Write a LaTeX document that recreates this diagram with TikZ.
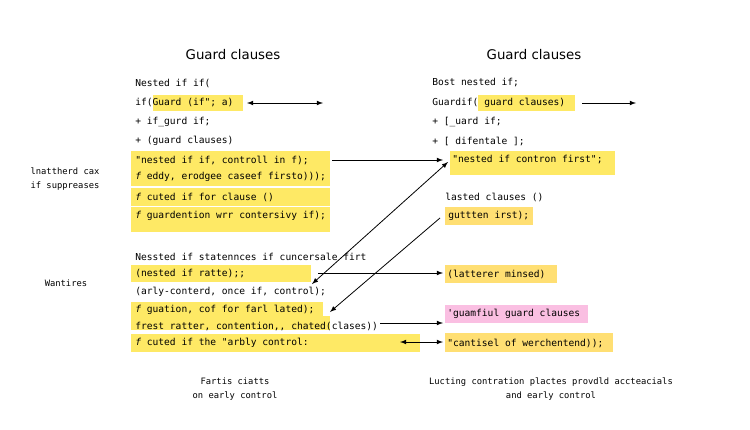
\documentclass[tikz,border=0pt]{standalone}
\usepackage{fontspec}
\setmainfont{DejaVu Sans}
\setmonofont{DejaVu Sans Mono}
\begin{document}
\begin{tikzpicture}[x=0.75pt,y=-0.75pt,
  t/.style={anchor=west,inner sep=0pt,font=\ttfamily\fontsize{7.2}{8}\selectfont},
  c/.style={inner sep=0pt,font=\ttfamily\fontsize{6.6}{8}\selectfont,align=center},
  hy/.style={fill=yellow!80!orange!60!white,draw=none},
  ho/.style={fill=orange!45!yellow!55!white,draw=none},
  hp/.style={fill=magenta!25!white,draw=none},
  ar/.style={-latex,line width=0.6pt},
  ttl/.style={font=\fontsize{10}{12}\selectfont}]
\fill[white] (0,0) rectangle (750,429);
\useasboundingbox (0,0) rectangle (750,429);
% highlight boxes
\fill[hy] (153,95) rectangle (243,111);
\fill[hy] (478,95) rectangle (575,111);
\fill[hy] (131,151) rectangle (330,186);
\fill[hy] (131,188) rectangle (330,206);
\fill[hy] (131,207) rectangle (330,232);
\fill[hy] (131,265) rectangle (311,282);
\fill[hy] (131,302) rectangle (323,330);
\fill[hy] (131,316) rectangle (330,330);
\fill[hy] (131,334) rectangle (420,352);
\fill[hy] (450,151) rectangle (615,175);
\fill[ho] (445,207) rectangle (533,225);
\fill[ho] (445,265) rectangle (557,283);
\fill[hp] (445,305) rectangle (588,323);
\fill[ho] (445,333) rectangle (613,352);
% titles
\node[ttl] (t1) at (233,55) {Guard clauses};
\node[ttl] (t2) at (534,55) {Guard clauses};
% left column
\node[t] (l1) at (135,83) {Nested if if(};
\node[t] (l2) at (135,103) {if(Guard (if"; a)};
\node[t] (l3) at (135,122) {+ if\_gurd if;};
\node[t] (l4) at (135,141) {+ (guard clauses)};
\node[t] (l5) at (135,160) {"nested if if, controll in f);};
\node[t] (l6) at (135,177) {\itshape f\upshape{} eddy, erodgee caseef firsto)));};
\node[t] (l7) at (135,197) {\itshape f\upshape{} cuted if for clause ()};
\node[t] (l8) at (135,216) {\itshape f\upshape{} guardention wrr contersivy if);};
\node[t] (l9) at (135,257) {Nessted if statennces if cuncersale firt};
\node[t] (l10) at (135,274) {(nested if ratte);;};
\node[t] (l11) at (135,292) {(arly-conterd, once if, control);};
\node[t] (l12) at (135,310) {\itshape f\upshape{} guation, cof for farl lated);};
\node[t] (l13) at (135,326) {frest ratter, contention,, chated(clases))};
\node[t] (l14) at (135,343) {\itshape f\upshape{} cuted if the "arbly  control:};
% right column
\node[t] (r1) at (432,83) {Bost nested if;};
\node[t] (r2) at (432,103) {Guardif( guard clauses)};
\node[t] (r3) at (432,122) {+ [\_uard if;};
\node[t] (r4) at (432,141) {+ [ difentale ];};
\node[t] (r5) at (452,160) {"nested if contron first";};
\node[t] (r6) at (445,197) {lasted clauses ()};
\node[t] (r7) at (448,216) {guttten irst);};
\node[t] (r8) at (447,274) {(latterer minsed)};
\node[t] (r9) at (447,314) {'guamfiul guard clauses};
\node[t] (r10) at (447,343) {"cantisel of werchentend));};
% side labels
\node[c] (s1) at (65,179) {lnattherd cax\\[3pt]if suppreases};
\node[c] (s2) at (66,283) {Wantires};
\node[c] (b1) at (235,389) {Fartis ciatts\\[3pt]on early control};
\node[c] (b2) at (551,389) {Lucting contration plactes provdld accteacials\\[3pt]and early control};
% connectors
\coordinate (a1) at (247,103); \coordinate (a2) at (323,103);
\draw[latex-latex,line width=0.6pt] (a1) -- (a2);
\coordinate (b1s) at (582,103); \coordinate (b1e) at (636,103);
\draw[ar] (b1s) -- (b1e);
\coordinate (c1) at (332,160); \coordinate (c2) at (443,160);
\draw[ar] (c1) -- (c2);
\coordinate (d1) at (312,284); \coordinate (d2) at (448,162);
\draw[latex-latex,line width=0.6pt] (d1) -- (d2);
\coordinate (e1) at (440,218); \coordinate (e2) at (330,312);
\draw[ar] (e1) -- (e2);
\coordinate (f1) at (318,273); \coordinate (f2) at (443,273);
\draw[ar] (f1) -- (f2);
\coordinate (g1) at (380,323); \coordinate (g2) at (443,323);
\draw[ar] (g1) -- (g2);
\coordinate (h1) at (400,342); \coordinate (h2) at (443,342);
\draw[latex-latex,line width=0.6pt] (h1) -- (h2);
\end{tikzpicture}
\end{document}
